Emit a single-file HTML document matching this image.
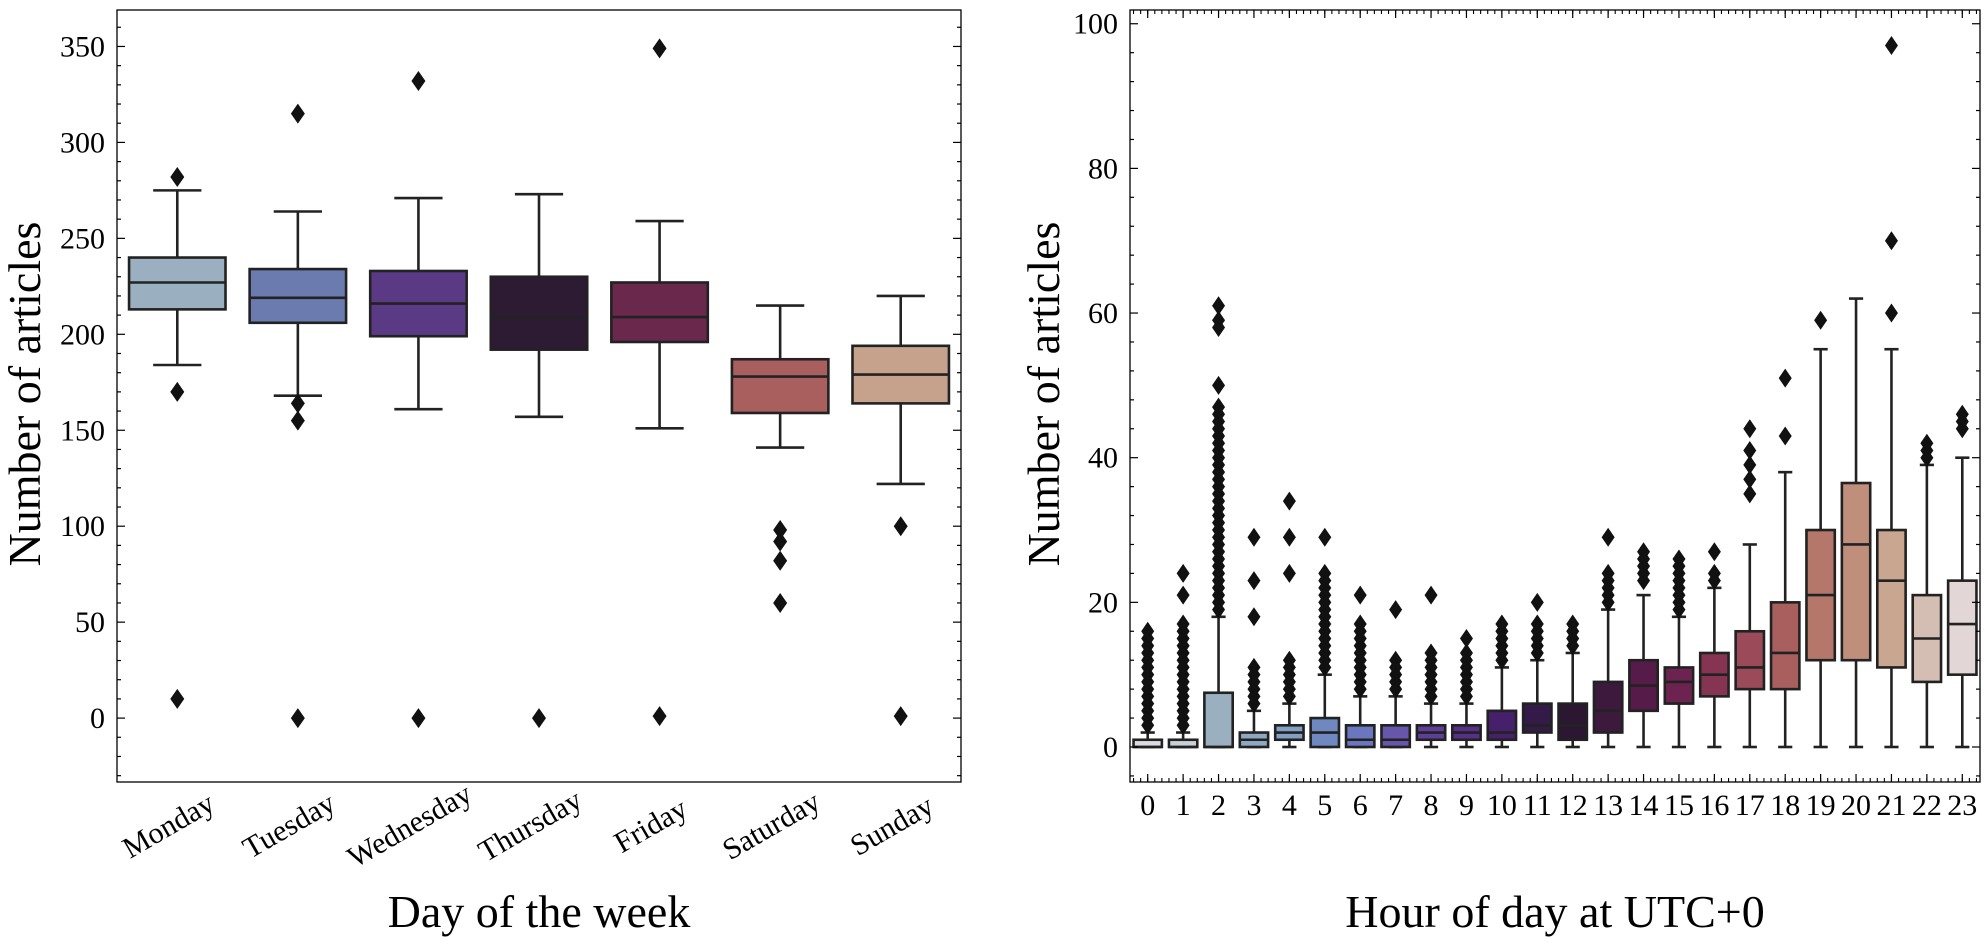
<!DOCTYPE html>
<html><head><meta charset="utf-8">
<style>
html,body{margin:0;padding:0;background:#fff;}
svg{display:block;font-family:"Liberation Serif","DejaVu Serif",serif;}
</style></head>
<body>
<svg id="chart" width="1985" height="948" viewBox="0 0 1985 948" xmlns="http://www.w3.org/2000/svg">
<rect width="1985" height="948" fill="#fff"/>
<g id="left"></g>
<g id="right"></g>
<text x="0" y="0" transform="translate(40,394) rotate(-90)" text-anchor="middle" font-size="46">Number of articles</text>
<text x="539" y="927" text-anchor="middle" font-size="46">Day of the week</text>
<text x="0" y="0" transform="translate(1059,394) rotate(-90)" text-anchor="middle" font-size="46">Number of articles</text>
<text x="1555" y="927" text-anchor="middle" font-size="46">Hour of day at UTC+0</text>
</svg>
<script>
// ---- Left chart data ----
const days = ["Monday","Tuesday","Wednesday","Thursday","Friday","Saturday","Sunday"];
const dayLo  = [184,168,161,157,151,141,122];
const dayQ1  = [213,206,199,192,196,159,164];
const dayMed = [227,219,216,209,209,178,179];
const dayQ3  = [240,234,233,230,227,187,194];
const dayHi  = [275,264,271,273,259,215,220];
const dayOut = [[282,170,10],[315,164,155,0],[332,0],[0],[349,1],[98,92,82,60],[100,1]];
const dayColors = ["#9ab0c0","#6b7bb0","#5a3a85","#2d1b33","#6a284c","#a85f5e","#c6a18c"];
const dayTicks = [0,50,100,150,200,250,300,350];

// ---- Right chart data ----
const hours = ["0","1","2","3","4","5","6","7","8","9","10","11","12","13","14","15","16","17","18","19","20","21","22","23"];
const hrLo  = [0,0,0,0,0,0,0,0,0,0,0,0,0,0,0,0,0,0,0,0,0,0,0,0];
const hrQ1  = [0,0,0,0,1,0,0,0,1,1,1,2,1,2,5,6,7,8,8,12,12,11,9,10];
const hrMed = [0,0,0,1,2,2,1,1,2,2,2,3,3,5,8.5,9,10,11,13,21,28,23,15,17];
const hrQ3  = [1,1,7.5,2,3,4,3,3,3,3,5,6,6,9,12,11,13,16,20,30,36.5,30,21,23];
const hrHi  = [2,2,18,5,6,10,7,7,6,6,11,12,13,19,21,18,22,28,38,55,62,55,39,40];
const hrOut = [
 [3,4,5,6,7,8,9,10,11,12,13,14,15,16],
 [3,4,5,6,7,8,9,10,11,12,13,14,15,16,17,21,24],
 [19,20,21,22,23,24,25,26,27,28,29,30,31,32,33,34,35,36,37,38,39,40,41,42,43,44,45,46,47,50,58,59,61],
 [6,7,8,9,10,11,18,23,29],
 [7,8,9,10,11,12,24,29,34],
 [11,12,13,14,15,16,17,18,19,20,21,22,23,24,29],
 [8,9,10,11,12,13,14,15,16,17,21],
 [8,9,10,11,12,19],
 [7,8,9,10,11,12,13,21],
 [7,8,9,10,11,12,13,15],
 [12,13,14,15,16,17],
 [13,14,15,16,17,20],
 [14,15,16,17],
 [20,21,22,23,24,29],
 [23,24,25,26,27],
 [19,20,21,22,23,24,25,26],
 [23,24,27],
 [35,37,39,41,44],
 [43,51],
 [59],
 [],
 [60,70,97],
 [40,41,42],
 [44,45,46]
];
const hrColors = ["#dcdce2","#c9d0d8","#9ab0c0","#8ea8c2","#80a0c4","#6f88c0","#6a76bd","#6657ab","#5e3e98","#552f88","#46206b","#341a48","#2c1733","#3c193d","#561b49","#6c2350","#853552","#9a4a58","#a85f5e","#b5776a","#bf8f7c","#c8a690","#d4bdb2","#e2d6d6"];
const hrTicks = [0,20,40,60,80,100];

const NS="http://www.w3.org/2000/svg";
function mk(parent,tag,attrs){const e=document.createElementNS(NS,tag);for(const k in attrs)e.setAttribute(k,attrs[k]);parent.appendChild(e);return e;}

function drawPanel(g, cfg){
  const {x0,x1,y0,y1,vmin,vmax,cats,lo,q1,med,q3,hi,out,colors,ticks,minorStep,rotate,xMinor,prefix,dw,dh} = cfg;
  const n=cats.length, bw=(x1-x0)/n;
  const X=i=>x0+bw*(i+0.5);
  const Y=v=>y1-(v-vmin)/(vmax-vmin)*(y1-y0);
  for(let i=0;i<n;i++){
    const bg=mk(g,'g',{});
    
    
    const cx=X(i), w=bw*0.8, cap=w/2;
    mk(bg,'line',{x1:cx,x2:cx,y1:Y(q3[i]),y2:Y(hi[i]),stroke:'#222','stroke-width':2.6});
    mk(bg,'line',{x1:cx,x2:cx,y1:Y(q1[i]),y2:Y(lo[i]),stroke:'#222','stroke-width':2.6});
    mk(bg,'line',{x1:cx-cap/2,x2:cx+cap/2,y1:Y(hi[i]),y2:Y(hi[i]),stroke:'#222','stroke-width':2.6});
    mk(bg,'line',{x1:cx-cap/2,x2:cx+cap/2,y1:Y(lo[i]),y2:Y(lo[i]),stroke:'#222','stroke-width':2.6});
    for(const v of out[i]){
      const yy=Y(v);
      const d=mk(bg,'path',{d:`M${cx},${yy-dh} L${cx+dw},${yy} L${cx},${yy+dh} L${cx-dw},${yy} Z`,fill:'#111'});
      
      
    }
    mk(bg,'rect',{x:cx-w/2,y:Y(q3[i]),width:w,height:Math.max(0.5,Y(q1[i])-Y(q3[i])),fill:colors[i],stroke:'#222','stroke-width':2.6});
    mk(bg,'line',{x1:cx-w/2,x2:cx+w/2,y1:Y(med[i]),y2:Y(med[i]),stroke:'#222','stroke-width':2.6});
  }
  const fr=mk(g,'rect',{x:x0,y:y0,width:x1-x0,height:y1-y0,fill:'none',stroke:'#000','stroke-width':1.3});
  
  
  const tmin=ticks[0], step=ticks[1]-ticks[0];
  for(let v=tmin-step; v<=vmax; v+=minorStep){
    if(v<vmin) continue;
    const yy=Y(v);
    const major = Math.abs(((v-tmin)%step+step)%step)<1e-6;
    const L= major?8:4;
    mk(g,'line',{x1:x0,x2:x0+L,y1:yy,y2:yy,stroke:'#000','stroke-width':1.2});
    mk(g,'line',{x1:x1,x2:x1-L,y1:yy,y2:yy,stroke:'#000','stroke-width':1.2});
  }
  ticks.forEach(t=>{
    const tx=mk(g,'text',{x:x0-12,y:Y(t)+10,'text-anchor':'end','font-size':30});
    tx.textContent=t;
    
    
  });
  for(let i=0;i<n;i++){
    let tx;
    if(rotate){
      tx=mk(g,'text',{x:0,y:0,transform:`translate(${X(i)-4},${y1+52}) rotate(-30)`,'text-anchor':'middle','font-size':30});
    } else {
      tx=mk(g,'text',{x:X(i),y:y1+33,'text-anchor':'middle','font-size':30});
    }
    tx.textContent=cats[i];
    
    
  }
  if(xMinor){
    for(let k=0;k<=n*5+5;k++){
      const xx=x0+bw*0.5+(k-3)*bw/5;
      if(xx<x0||xx>x1) continue;
      mk(g,'line',{x1:xx,x2:xx,y1:y1,y2:y1-4,stroke:'#000','stroke-width':1.1});
      mk(g,'line',{x1:xx,x2:xx,y1:y0,y2:y0+4,stroke:'#000','stroke-width':1.1});
    }
    for(let i=0;i<n;i++){
      mk(g,'line',{x1:X(i),x2:X(i),y1:y1,y2:y1-8,stroke:'#000','stroke-width':1.2});
      mk(g,'line',{x1:X(i),x2:X(i),y1:y0,y2:y0+8,stroke:'#000','stroke-width':1.2});
    }
  }
}

drawPanel(document.getElementById('left'),{
  x0:117,x1:961,y0:10,y1:782,vmin:-33.3,vmax:369,
  cats:days,lo:dayLo,q1:dayQ1,med:dayMed,q3:dayQ3,hi:dayHi,out:dayOut,colors:dayColors,
  ticks:dayTicks,minorStep:10,rotate:true,xMinor:false,prefix:'day',dw:7,dh:10
});
drawPanel(document.getElementById('right'),{
  x0:1130,x1:1980,y0:10,y1:782,vmin:-4.84,vmax:101.9,
  cats:hours,lo:hrLo,q1:hrQ1,med:hrMed,q3:hrQ3,hi:hrHi,out:hrOut,colors:hrColors,
  ticks:hrTicks,minorStep:4,rotate:false,xMinor:true,prefix:'hour',dw:6.5,dh:9.5
});
</script>
</body></html>
